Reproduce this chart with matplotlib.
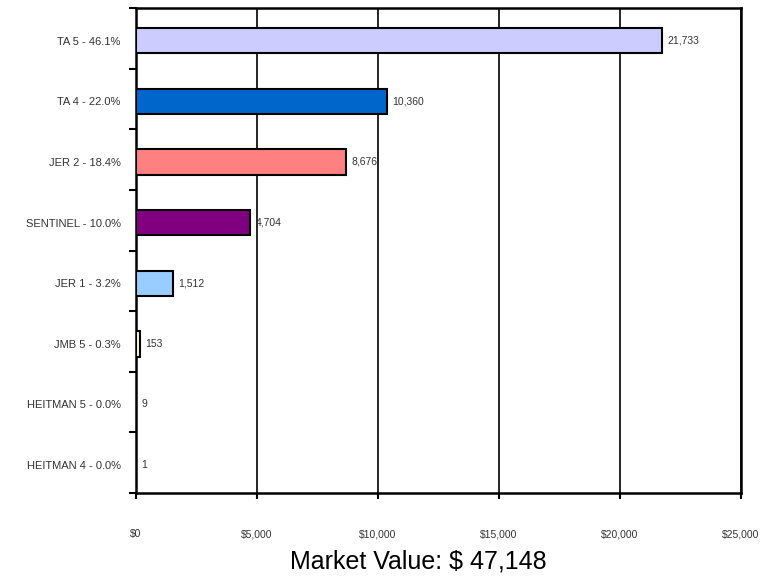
import numpy as np
import matplotlib
matplotlib.use('Agg')
import matplotlib.pyplot as plt
from matplotlib.ticker import FuncFormatter

plt.rcParams['font.family'] = ['Liberation Sans', 'DejaVu Sans']

# data, top to bottom as in the chart
labels = ['TA 5 - 46.1%', 'TA 4 - 22.0%', 'JER 2 - 18.4%', 'SENTINEL - 10.0%',
          'JER 1 - 3.2%', 'JMB 5 - 0.3%', 'HEITMAN 5 - 0.0%', 'HEITMAN 4 - 0.0%']
values = [21733, 10360, 8676, 4704, 1512, 153, 9, 1]
colors = ['#CCCCFF', '#0066CC', '#FF8080', '#800080',
          '#99CCFF', '#FFFFCC', '#FFFFFF', '#FFFFFF']
total = 47148

fig = plt.figure(figsize=(7.79, 5.77), dpi=100)
ax = fig.add_axes([136/779, 1 - 493/577, (741 - 136)/779, (493 - 8)/577])

n = len(labels)
y = np.arange(n)
ax.barh(y + 0.04, values, height=0.42, color=colors, edgecolor='black', linewidth=1.5, zorder=3)
for yi, v in zip(y, values):
    ax.annotate(f'{v:,}', (v, yi + 0.04), xytext=(4, 0), textcoords='offset points',
                va='center', ha='left', fontsize=7.5, color='#333333')

ax.set_ylim(n - 0.5, -0.5)
ax.set_xlim(0, 25000)
ax.set_xticks(np.arange(0, 25001, 5000))
ax.xaxis.set_major_formatter(FuncFormatter(lambda x, p: f'${x:,.0f}'))
ax.grid(axis='x', color='black', linewidth=1.2, zorder=1)

ax.set_yticks(y + 0.04)
ax.set_yticklabels(labels, fontsize=8, color='#333333')
ax.set_yticks(np.arange(-0.5, n), minor=True)
ax.tick_params(axis='y', which='major', length=0, pad=11)
ax.tick_params(axis='y', which='minor', length=5, width=1.5, direction='out')
ax.tick_params(axis='x', length=4, width=1.5, pad=22, labelsize=7.5, labelcolor='#333333')

for s in ax.spines.values():
    s.set_linewidth(1.8)

fig.text(418/779, 1 - 562/577, f'Market Value: $ {total:,}', fontsize=18,
         ha='center', va='center')

fig.savefig('out.png', dpi=100)
